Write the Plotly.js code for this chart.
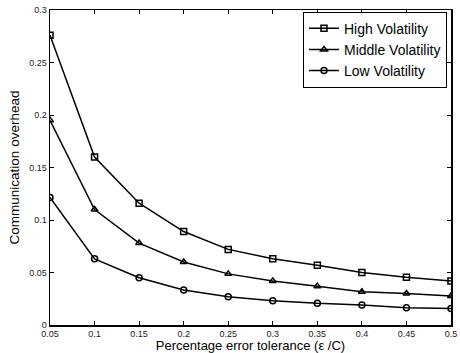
<!DOCTYPE html>
<html><head><meta charset="utf-8">
<script src="https://cdn.plot.ly/plotly-3.0.1.min.js"></script>
<style>body{margin:0;background:#fff}#c{width:460px;height:353px}</style>
</head><body><div id="c"></div>
<script>
var xVals = [0.05,0.1,0.15,0.2,0.25,0.3,0.35,0.4,0.45,0.5];
var highVol = [0.276,0.160,0.116,0.089,0.072,0.063,0.057,0.050,0.0455,0.042];
var midVol = [0.195,0.110,0.078,0.060,0.0487,0.042,0.037,0.0317,0.030,0.0276];
var lowVol = [0.1215,0.063,0.045,0.0333,0.027,0.0232,0.0206,0.019,0.0165,0.0156];
var xTicks = [0.05,0.1,0.15,0.2,0.25,0.3,0.35,0.4,0.45,0.5];
var xTickText = ['0.05','0.1','0.15','0.2','0.25','0.3','0.35','0.4','0.45','0.5'];
var yTicks = [0,0.05,0.1,0.15,0.2,0.25,0.3];
var yTickText = ['0','0.05','0.1','0.15','0.2','0.25','0.3'];
var names = ['High Volatility','Middle Volatility','Low Volatility'];

function tr(y,name,sym){
  return {x:xVals,y:y,name:name,mode:'lines+markers',type:'scatter',
    line:{color:'black',width:1.5},
    marker:{symbol:sym,size:6,color:'black',line:{color:'black',width:1.5}}};
}
var data=[tr(highVol,names[0],'square-open'),tr(midVol,names[1],'triangle-up-open'),tr(lowVol,names[2],'circle-open')];
var axFont={family:'Liberation Sans, Arial, sans-serif',size:9,color:'#222'};
var layout={
  width:460,height:353,
  margin:{l:50,r:9,t:10,b:28},
  paper_bgcolor:'white',plot_bgcolor:'white',
  font:{family:'Liberation Sans, Arial, sans-serif',color:'black'},
  showlegend:true,
  legend:{x:0.99,xanchor:'right',y:0.995,yanchor:'top',bordercolor:'black',borderwidth:1,bgcolor:'white',
    font:{size:14,family:'Liberation Sans, Arial, sans-serif'},tracegroupgap:0,itemwidth:30},
  xaxis:{range:[0.05,0.5],tickvals:xTicks,ticktext:xTickText,ticks:'inside',ticklen:4,tickcolor:'black',
    showline:true,linecolor:'black',linewidth:1.5,mirror:'ticks',showgrid:false,zeroline:false,tickfont:axFont,
    title:{text:'Percentage error tolerance (\u03b5 /C)',font:{size:13},standoff:0}},
  yaxis:{range:[0,0.3],tickvals:yTicks,ticktext:yTickText,ticks:'inside',ticklen:4,tickcolor:'black',
    showline:true,linecolor:'black',linewidth:1.5,mirror:'ticks',showgrid:false,zeroline:false,tickfont:axFont,
    title:{text:'Communication overhead',font:{size:13.5},standoff:6}}
};
Plotly.newPlot('c',data,layout,{displayModeBar:false,staticPlot:true});
</script></body></html>
